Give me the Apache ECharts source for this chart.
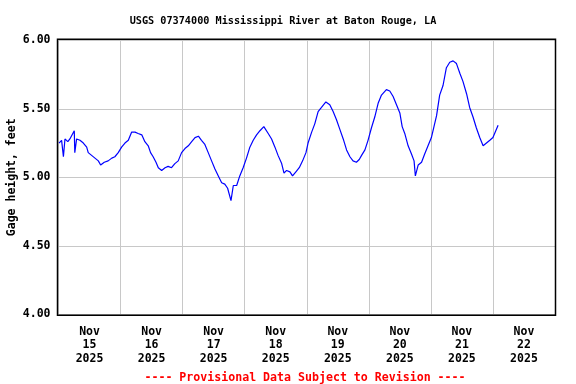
<!DOCTYPE html>
<html>
<head>
<meta charset="utf-8">
<script src="https://cdn.jsdelivr.net/npm/echarts@6/dist/echarts.min.js"></script>
<style>html,body{margin:0;padding:0;background:#fff}#c{width:576px;height:384px}</style>
</head>
<body>
<div id="c"></div>
<script>
// Hours since Nov 15 2025 00:00 and gage height (feet)
const hours = [0.2,1.2,1.9,2.5,3.6,4.4,5.1,6.1,6.3,7.0,8.3,9.6,10.9,11.5,12.8,14.1,15.4,16.3,17.7,19.2,20.6,21.8,23.1,24.4,25.7,27.0,28.3,29.6,30.8,32.2,33.4,34.7,35.6,36.6,37.7,38.6,39.9,41.2,42.4,43.7,45.0,46.3,47.6,48.9,50.2,51.5,52.8,54.1,55.3,56.6,57.9,59.2,60.5,61.8,63.1,64.3,65.4,66.7,67.6,68.9,70.1,71.4,72.7,74.0,75.3,76.6,77.9,79.4,81.1,82.4,83.7,84.9,86.3,87.2,88.2,89.5,90.5,91.8,93.1,94.4,95.7,96.5,97.9,99.1,100.4,101.7,103.4,104.9,106.2,107.5,108.8,110.1,111.4,112.7,113.9,115.2,116.3,117.2,118.5,119.7,121.0,122.3,123.6,124.9,126.8,128.1,129.4,130.7,132.0,132.9,133.9,135.2,136.5,137.5,138.0,139.1,140.4,141.6,142.9,144.2,145.2,146.2,147.4,148.7,150.0,151.3,152.6,153.9,155.2,156.4,157.8,159.0,160.3,161.6,162.9,164.2,165.5,166.8,168.0,169.1,170.0];
const gage = [5.25,5.27,5.15,5.28,5.26,5.28,5.29,5.34,5.18,5.28,5.27,5.25,5.22,5.18,5.16,5.14,5.12,5.09,5.11,5.12,5.14,5.15,5.18,5.22,5.25,5.27,5.33,5.33,5.32,5.31,5.26,5.23,5.18,5.15,5.11,5.07,5.05,5.07,5.08,5.07,5.10,5.12,5.18,5.21,5.23,5.26,5.29,5.30,5.27,5.24,5.18,5.12,5.06,5.01,4.96,4.95,4.92,4.83,4.94,4.94,5.01,5.07,5.14,5.22,5.27,5.31,5.34,5.37,5.32,5.28,5.22,5.16,5.10,5.03,5.05,5.04,5.01,5.04,5.07,5.12,5.18,5.25,5.33,5.39,5.48,5.51,5.55,5.53,5.48,5.42,5.35,5.28,5.20,5.15,5.12,5.11,5.13,5.16,5.20,5.27,5.36,5.44,5.54,5.60,5.64,5.63,5.59,5.53,5.47,5.37,5.32,5.23,5.17,5.12,5.01,5.09,5.11,5.17,5.23,5.29,5.37,5.45,5.60,5.67,5.80,5.84,5.85,5.83,5.76,5.70,5.61,5.51,5.44,5.36,5.29,5.23,5.25,5.27,5.29,5.34,5.38];
const dayLabels = ['15','16','17','18','19','20','21','22'];
const monthLabel = 'Nov';
const yearLabel = '2025';
const yTicks = [4.0, 4.5, 5.0, 5.5, 6.0];
const yAxisTitle = 'Gage height, feet';

const G = {left: 58.5, right: 21, top: 40.3, bottom: 69.7};
const W = 576, H = 384;
const FONT = '"DejaVu Sans Mono", "Liberation Mono", monospace';

const chart = echarts.init(document.getElementById('c'), null, {renderer: 'canvas'});
chart.setOption({
  animation: false,
  backgroundColor: '#fff',
  title: [
    {text: 'USGS 07374000 Mississippi River at Baton Rouge, LA', left: 278, top: 11, textAlign: 'center',
     textStyle: {fontFamily: FONT, fontWeight: 'bold', fontSize: 10.2, color: '#000'}},
    {text: '---- Provisional Data Subject to Revision ----', left: 300, top: 367, textAlign: 'center',
     textStyle: {fontFamily: FONT, fontWeight: 'bold', fontSize: 11.6, color: '#ff0000'}}
  ],
  grid: {left: G.left, right: G.right, top: G.top, bottom: G.bottom, show: false, containLabel: false, outerBoundsMode: 'none'},
  xAxis: [
    {type: 'value', min: 0, max: 24 * dayLabels.length, interval: 24,
     axisLine: {show: false}, axisTick: {show: false}, axisLabel: {show: false},
     splitLine: {show: true, lineStyle: {color: '#c8c8c8', width: 1}}},
    {type: 'value', min: 0, max: 24 * dayLabels.length, interval: 12, position: 'bottom',
     axisLine: {show: false}, axisTick: {show: false}, splitLine: {show: false},
     axisLabel: {show: true, margin: 11, lineHeight: 13.3, fontFamily: FONT, fontWeight: 'bold', fontSize: 11.5, color: '#000',
       showMinLabel: true, showMaxLabel: true,
       formatter: v => (v % 24 === 12) ? (monthLabel + '\n' + dayLabels[Math.floor(v / 24)] + '\n' + yearLabel) : ''}}
  ],
  yAxis: {
    type: 'value', min: yTicks[0], max: yTicks[yTicks.length - 1], interval: 0.5,
    axisLine: {show: false}, axisTick: {show: false},
    axisLabel: {margin: 8, fontFamily: FONT, fontWeight: 'bold', fontSize: 11.5, color: '#000', formatter: v => v.toFixed(2)},
    splitLine: {show: true, lineStyle: {color: '#c8c8c8', width: 1}}
  },
  series: [{
    type: 'line', xAxisIndex: 0, showSymbol: false, symbol: 'none',
    data: hours.map((h, i) => [h, gage[i]]),
    lineStyle: {color: '#0000ff', width: 1.2},
    z: 3
  }],
  graphic: [{
    type: 'rect', silent: true, z: 10,
    shape: {x: G.left - 1, y: G.top - 1, width: W - G.left - G.right + 1.5, height: H - G.top - G.bottom + 2},
    style: {fill: 'none', stroke: '#000', lineWidth: 1.5}
  }, {
    type: 'text', silent: true, z: 10,
    x: 12.5, y: G.top + (H - G.top - G.bottom) / 2, rotation: Math.PI / 2,
    style: {text: yAxisTitle, fill: '#000', align: 'center', verticalAlign: 'middle',
            font: 'bold 11.5px ' + FONT}
  }]
});
</script>
</body>
</html>
